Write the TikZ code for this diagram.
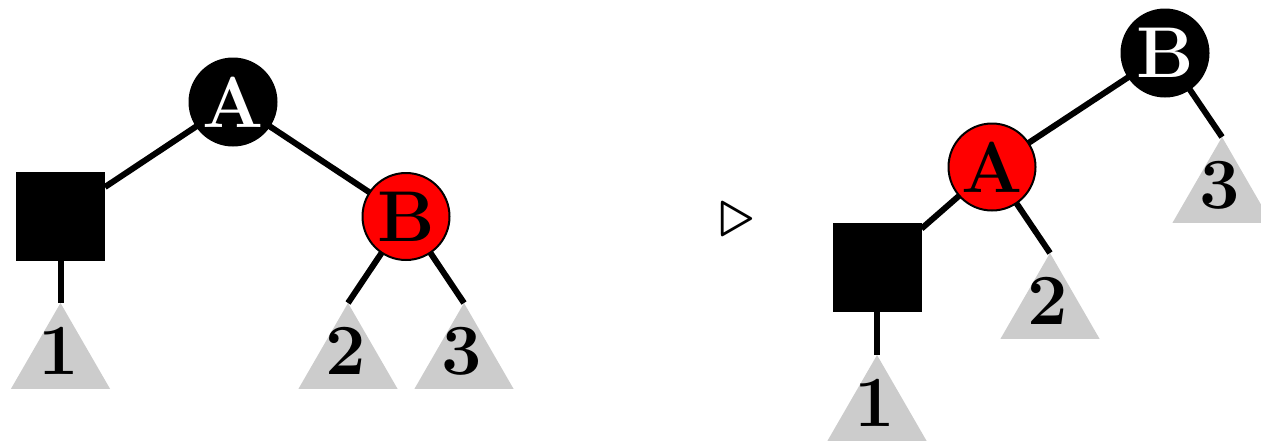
\documentclass[tikz,border=0pt]{standalone}
\usepackage{amssymb}
\usetikzlibrary{positioning, shapes.geometric}

\begin{document}
\begin{tikzpicture}[
  x=0.5pt, y=-0.5pt,
  edge/.style={line width=3pt, black},
  blacknode/.style={circle, draw=black, fill=black, line width=1pt, minimum size=43.5pt, inner sep=0pt, outer sep=0pt, text=white, font=\fontsize{36}{36}\selectfont\bfseries},
  rednode/.style={blacknode, fill=red, text=black},
  leafbox/.style={rectangle, fill=black, minimum size=44.5pt, inner sep=0pt, outer sep=0pt},
  subtree/.style={regular polygon, regular polygon sides=3, fill=black!20, minimum size=57.2pt, inner sep=0pt, outer sep=0pt, anchor=north},
  digit/.style={font=\fontsize{36}{36}\selectfont\bfseries, inner sep=0pt, yshift=4.5pt, xshift=-1pt},
]
\useasboundingbox (0,0) rectangle (1261,440);

% === Left tree: before rotation ===
\node[blacknode] (lA) at (233,102) {A};
\node[leafbox] (lsq) at (60.5,216.5) {};
\node[rednode] (lB) at (406,216.5) {B};

\node[subtree, below=21pt of lsq, label={[digit]center:1}] (lt1) {};
\node[subtree, label={[digit]center:2}] (lt2) at (348,303) {};
\node[subtree, label={[digit]center:3}] (lt3) at (464,303) {};

\draw[edge] (lA) -- (lsq);
\draw[edge] (lA) -- (lB);
\draw[edge] (lsq) -- (lt1.north);
\draw[edge] (lB) -- (lt2.north);
\draw[edge] (lB) -- (lt3.north);

% rotation sign
\node (turn) at (737,220) {\scalebox{3.5}{$\triangleright$}};

% === Right tree: after rotation ===
\node[blacknode] (rB) at (1165,53) {B};
\node[rednode] (rA) at (992,167) {A};
\node[leafbox] (rsq) at (877,267.5) {};

\node[subtree, below=21.5pt of rsq, label={[digit]center:1}] (rt1) {};
\node[subtree, label={[digit]center:2}] (rt2) at (1050,253) {};
\node[subtree, label={[digit]center:3}] (rt3) at (1222,137) {};

\draw[edge] (rB) -- (rA);
\draw[edge] (rA) -- (rsq);
\draw[edge] (rsq) -- (rt1.north);
\draw[edge] (rA) -- (rt2.north);
\draw[edge] (rB) -- (rt3.north);

\end{tikzpicture}
\end{document}
